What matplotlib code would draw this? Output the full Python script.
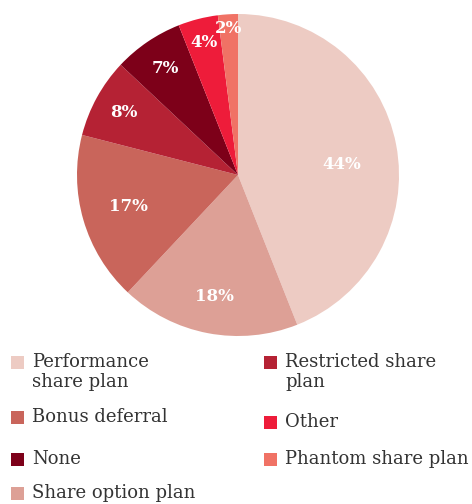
import matplotlib.pyplot as plt
import numpy as np
from matplotlib.patches import Rectangle

# slices, clockwise from 12 o'clock
labels = ['Performance\nshare plan', 'Share option plan', 'Bonus deferral',
          'Restricted share\nplan', 'None', 'Other', 'Phantom share plan']
values = [44, 18, 17, 8, 7, 4, 2]
colors = ['#EDCBC3', '#DDA096', '#C9655B', '#B52234', '#7D0019', '#EE1C3A', '#F07265']

# label placement (fraction of radius, angle nudge in degrees)
label_r = [0.65, 0.77, 0.71, 0.81, 0.80, 0.85, 0.91]
label_nudge = [-4.8, 0, 0, 0, 0, 0, 0]

plt.rcParams['font.family'] = ['DejaVu Serif']

fig = plt.figure(figsize=(4.72, 5.04), dpi=100)
ax = fig.add_axes([77 / 472, 1 - 336 / 504, 322 / 472, 322 / 504])
wedges, _ = ax.pie(values, colors=colors, startangle=90, counterclock=False,
                   radius=1, wedgeprops=dict(linewidth=0))
ax.set_xlim(-1, 1)
ax.set_ylim(-1, 1)
ax.set_aspect('equal')

for w, v, r, d in zip(wedges, values, label_r, label_nudge):
    ang = np.deg2rad((w.theta1 + w.theta2) / 2 + d)
    ax.text(r * np.cos(ang), r * np.sin(ang), f'{v}%', ha='center', va='center',
            color='white', fontsize=12, fontweight='bold')

# hand-placed legend: (slice index, x of swatch, y centre of first line) in pixels
legend_slots = [(0, 11, 362), (2, 11, 417), (4, 11, 459), (1, 11, 493),
                (3, 264, 362), (5, 264, 422), (6, 264, 459)]
W, H = 472, 504
sq = 13
for i, x, y in legend_slots:
    fig.add_artist(Rectangle((x / W, (H - y - sq / 2) / H), sq / W, sq / H,
                             transform=fig.transFigure, facecolor=colors[i],
                             edgecolor='none'))
    fig.text((x + 21) / W, (H - y + 9) / H, labels[i], ha='left', va='top',
             fontsize=13, color='#333333', linespacing=1.12)

fig.savefig('out.png', dpi=100)
